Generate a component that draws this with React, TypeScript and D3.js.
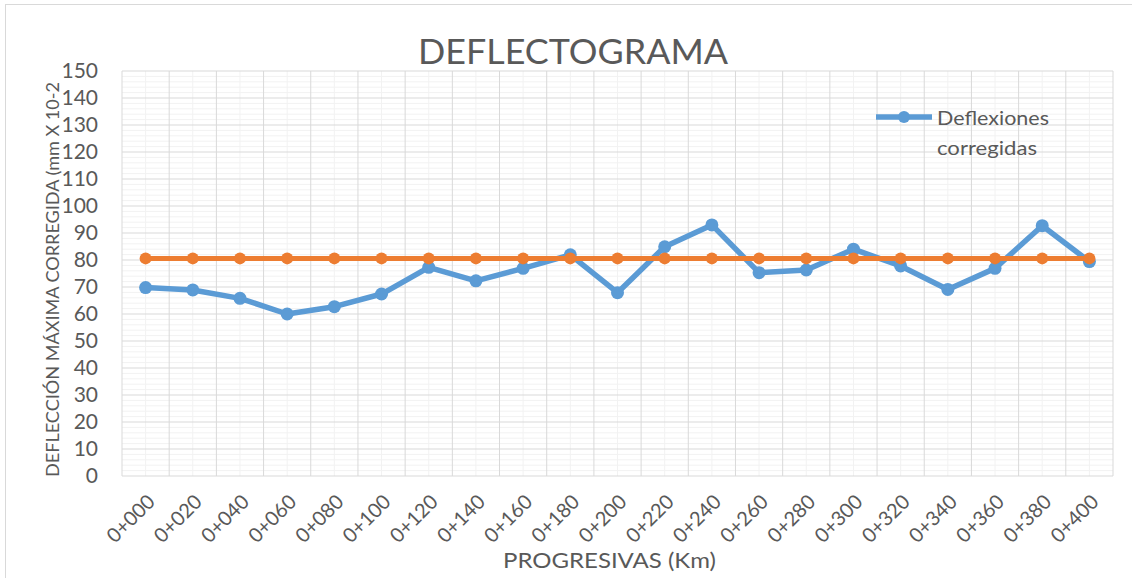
import React from "react";
import * as d3 from "d3";

const categories = ["0+000","0+020","0+040","0+060","0+080","0+100","0+120","0+140","0+160","0+180","0+200","0+220","0+240","0+260","0+280","0+300","0+320","0+340","0+360","0+380","0+400"];
const deflexiones = [69.8, 68.9, 65.8, 60, 62.7, 67.4, 77.3, 72.3, 76.9, 81.9, 67.9, 84.9, 93, 75.3, 76.3, 84, 77.8, 69.1, 76.9, 92.7, 79.4];
const limite = [80.6, 80.6, 80.6, 80.6, 80.6, 80.6, 80.6, 80.6, 80.6, 80.6, 80.6, 80.6, 80.6, 80.6, 80.6, 80.6, 80.6, 80.6, 80.6, 80.6, 80.6];
const yTicks = [0, 10, 20, 30, 40, 50, 60, 70, 80, 90, 100, 110, 120, 130, 140, 150];
const yMinor = d3.range(0, 151, 2);

const W = 1132, H = 578;
const L = 122, R = 1113, T = 71, B = 476;
const FONT = "Lato, 'Open Sans', sans-serif";
const TXT = "#595959";
const BLUE = "#5B9BD5";
const ORANGE = "#ED7D31";

export default function App() {
  const x = d3.scaleBand<string>().domain(categories).range([L, R]).paddingInner(0).paddingOuter(0);
  const y = d3.scaleLinear().domain([0, 150]).range([B, T]);
  const cx = (c: string) => (x(c) as number) + x.bandwidth() / 2;
  const line = d3.line<number>().x((_, i) => cx(categories[i])).y((d) => y(d));

  return (
    <svg width={W} height={H} style={{ position: "absolute", left: 0, top: 0, background: "#fff" }} fontFamily={FONT}>
      <rect x={0} y={0} width={W} height={H} fill="#fff" />
      <rect x={5.5} y={4.5} width={W + 20} height={H + 20} fill="none" stroke="#D9D9D9" strokeWidth={1} />
      {/* minor horizontal */}
      {yMinor.filter((v) => v % 10 !== 0).map((v) => (
        <line key={"hm" + v} x1={L} x2={R} y1={y(v)} y2={y(v)} stroke="#F2F2F2" strokeWidth={1} />
      ))}
      {/* minor vertical at centers */}
      {categories.map((c) => (
        <line key={"vm" + c} x1={cx(c)} x2={cx(c)} y1={T} y2={B} stroke="#F2F2F2" strokeWidth={1} />
      ))}
      {/* major horizontal */}
      {yTicks.map((v) => (
        <line key={"h" + v} x1={L} x2={R} y1={y(v)} y2={y(v)} stroke="#D9D9D9" strokeWidth={1} />
      ))}
      {/* major vertical at band edges */}
      {categories.map((c) => (
        <line key={"v" + c} x1={x(c) as number} x2={x(c) as number} y1={T} y2={B} stroke="#D9D9D9" strokeWidth={1} />
      ))}
      <line x1={R} x2={R} y1={T} y2={B} stroke="#D9D9D9" strokeWidth={1} />

      {/* y ticks */}
      {yTicks.map((v) => (
        <text key={"yt" + v} x={98} y={y(v)} dy="0.35em" textAnchor="end" fontSize={21} fill={TXT}>{v}</text>
      ))}
      {/* x ticks */}
      {categories.map((c) => (
        <text key={"xt" + c} transform={`translate(${cx(c) + 10.5},${503}) rotate(-45)`} textAnchor="end" fontSize={20} fill={TXT}>{c}</text>
      ))}

      {/* series */}
      <path d={line(deflexiones) || ""} fill="none" stroke={BLUE} strokeWidth={5.5} strokeLinejoin="round" />
      {deflexiones.map((v, i) => (
        <circle key={"b" + i} cx={cx(categories[i])} cy={y(v)} r={6.5} fill={BLUE} />
      ))}
      <path d={line(limite) || ""} fill="none" stroke={ORANGE} strokeWidth={5} strokeLinejoin="round" />
      {limite.map((v, i) => (
        <circle key={"o" + i} cx={cx(categories[i])} cy={y(v)} r={6} fill={ORANGE} />
      ))}

      {/* title */}
      <text x={573} y={64} textAnchor="middle" fontSize={35} fill={TXT} textLength={310} lengthAdjust="spacingAndGlyphs">DEFLECTOGRAMA</text>
      {/* axis titles */}
      <text transform={`translate(59,${(82 + 477) / 2}) rotate(-90)`} textAnchor="middle" fontSize={18} fill={TXT} textLength={395} lengthAdjust="spacingAndGlyphs">DEFLECCIÓN MÁXIMA CORREGIDA (mm X 10-2</text>
      <text x={609.5} y={568} textAnchor="middle" fontSize={21} fill={TXT} textLength={213} lengthAdjust="spacingAndGlyphs">PROGRESIVAS (Km)</text>

      {/* legend */}
      <line x1={876} x2={932} y1={117} y2={117} stroke={BLUE} strokeWidth={5.5} />
      <circle cx={904} cy={117} r={6} fill={BLUE} />
      <text x={937} y={125} fontSize={20} fill={TXT} textLength={112} lengthAdjust="spacingAndGlyphs">Deflexiones</text>
      <text x={937} y={155} fontSize={20} fill={TXT} textLength={100} lengthAdjust="spacingAndGlyphs">corregidas</text>
    </svg>
  );
}
